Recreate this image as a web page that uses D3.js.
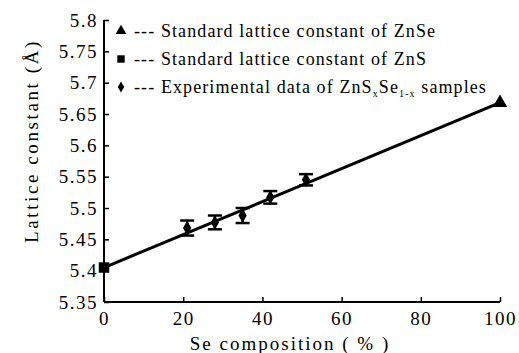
<!DOCTYPE html>
<html>
<head>
<meta charset="utf-8">
<script src="https://cdn.jsdelivr.net/npm/d3@7"></script>
<style>
body { margin:0; background:#fff; }
text { font-family:"Times New Roman","Liberation Serif","DejaVu Serif",serif !important; fill:#000; }
</style>
</head>
<body>
<svg id="chart"></svg>
<script>
// data
var seComp = [21, 28, 35, 42, 51];
var latticeExp = [5.468, 5.477, 5.488, 5.517, 5.545];
var latticeErr = [0.012, 0.011, 0.012, 0.010, 0.009];
var znsPoint = [0, 5.405];
var znsePoint = [100, 5.668];
var fitLine = [[0, 5.405], [100, 5.668]];
var xTicks = [0, 20, 40, 60, 80, 100];
var yTicks = [5.35, 5.4, 5.45, 5.5, 5.55, 5.6, 5.65, 5.7, 5.75, 5.8];

var screen = {width:519, height:353};
var margins = {top:20, bottom:51, left:104, right:19};
var graph = {
    width:screen.width-margins.left-margins.right,
    height:screen.height-margins.top-margins.bottom
};

var svg = d3.select("#chart")
    .attr("width",screen.width)
    .attr("height",screen.height);

var xScale = d3.scaleLinear().domain([0,100]).range([0,graph.width]);
var yScale = d3.scaleLinear().domain([5.35,5.8]).range([graph.height,0]);

var g = svg.append("g")
    .attr("transform","translate("+margins.left+","+margins.top+")");

// axes, ticks pointing inward
var xAxis = d3.axisBottom(xScale).tickValues(xTicks).tickSize(-5).tickPadding(10)
    .tickFormat(d3.format("d"));
var yAxis = d3.axisLeft(yScale).tickValues(yTicks).tickSize(-5).tickPadding(6)
    .tickFormat(function(d){ return d3.format("")(+d.toFixed(2)); });

var xg = g.append("g").attr("transform","translate(0,"+graph.height+")").call(xAxis);
var yg = g.append("g").call(yAxis);
[xg,yg].forEach(function(a){
    a.attr("font-family",null);
    a.select(".domain").attr("stroke","#000").attr("stroke-width",2);
    a.selectAll(".tick line").attr("stroke","#000").attr("stroke-width",1.5);
    a.selectAll(".tick text").style("font-size","19px").style("letter-spacing","1.5px")
        .attr("fill","#000");
});
xg.select(".domain").attr("d","M0,0H"+graph.width);
yg.select(".domain").attr("d","M0,"+graph.height+"V0");

// fit line
var line = d3.line().x(function(d){return xScale(d[0]);}).y(function(d){return yScale(d[1]);});
g.append("path").datum(fitLine).attr("d",line)
    .attr("fill","none").attr("stroke","#000").attr("stroke-width",3);

// error bars
var exp = seComp.map(function(x,i){ return {x:x, y:latticeExp[i], e:latticeErr[i]}; });
var bars = g.selectAll(".err").data(exp).enter().append("g").attr("class","err");
bars.append("line")
    .attr("x1",function(d){return xScale(d.x);}).attr("x2",function(d){return xScale(d.x);})
    .attr("y1",function(d){return yScale(d.y-d.e);}).attr("y2",function(d){return yScale(d.y+d.e);})
    .attr("stroke","#000").attr("stroke-width",2.5);
[-1,1].forEach(function(s){
    bars.append("line")
        .attr("x1",function(d){return xScale(d.x)-7;}).attr("x2",function(d){return xScale(d.x)+7;})
        .attr("y1",function(d){return yScale(d.y+s*d.e);}).attr("y2",function(d){return yScale(d.y+s*d.e);})
        .attr("stroke","#000").attr("stroke-width",2.5);
});
g.selectAll(".pt").data(exp).enter().append("path")
    .attr("transform",function(d){return "translate("+xScale(d.x)+","+yScale(d.y)+")";})
    .attr("d",d3.symbol().type(d3.symbolDiamond).size(60));

// end points
g.append("path")
    .attr("transform","translate("+xScale(znsPoint[0])+","+yScale(znsPoint[1])+")")
    .attr("d",d3.symbol().type(d3.symbolSquare).size(110));
g.append("path")
    .attr("transform","translate("+xScale(znsePoint[0])+","+yScale(znsePoint[1])+")")
    .attr("d",d3.symbol().type(d3.symbolTriangle).size(90));

// legend
var legend = svg.append("g").attr("transform","translate(121,31)");
var symbols = [d3.symbolTriangle, d3.symbolSquare, d3.symbolDiamond];
var sizes = [50, 55, 35];
var entries = legend.selectAll("g").data([0,1,2]).enter().append("g")
    .attr("transform",function(d){return "translate(0,"+(d*28)+")";});
entries.append("path")
    .attr("d",function(d){return d3.symbol().type(symbols[d]).size(sizes[d])();});
var texts = entries.append("text").attr("x",13).attr("y",6)
    .style("font-size","18px").style("letter-spacing","1.1px");
texts.filter(function(d){return d===0;}).text("--- Standard lattice constant of ZnSe");
texts.filter(function(d){return d===1;}).text("--- Standard lattice constant of ZnS");
var t3 = texts.filter(function(d){return d===2;});
t3.append("tspan").text("--- Experimental data of ZnS");
t3.append("tspan").text("x").attr("dy",4).style("font-size","10px");
t3.append("tspan").text("Se").attr("dy",-4);
t3.append("tspan").text("1-x").attr("dy",4).style("font-size","10px");
t3.append("tspan").text(" samples").attr("dy",-4);

// axis titles
svg.append("text").attr("x",290).attr("y",350)
    .attr("text-anchor","middle").style("font-size","19px").style("letter-spacing","2px")
    .text("Se composition ( % )");
svg.append("text").attr("transform","translate(38,141) rotate(-90)")
    .attr("text-anchor","middle").style("font-size","19px").style("letter-spacing","2.6px")
    .text("Lattice constant (Å)");
</script>
</body>
</html>
